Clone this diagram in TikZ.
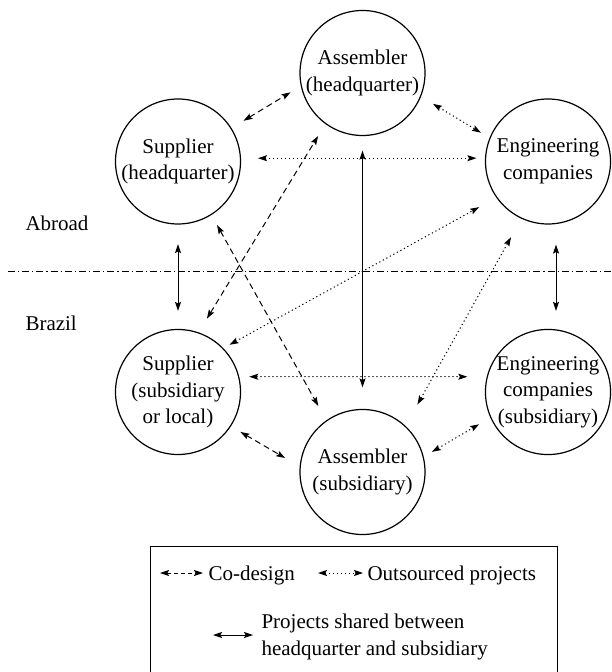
\documentclass[tikz,border=0pt]{standalone}
\usepackage{fontspec}
\setmainfont{Liberation Serif}
\usetikzlibrary{arrows.meta, positioning}

\begin{document}
\begin{tikzpicture}[
    x=0.5pt, y=-0.5pt,
    font=\fontsize{10.5}{13.3}\selectfont,
    line width=0.5pt,
    firm/.style={circle, draw=black, line width=0.6pt, minimum size=62.5pt, inner sep=0pt, align=center},
    tip/.style={{Stealth[length=4.5pt, width=3pt, inset=0.8pt]}-{Stealth[length=4.5pt, width=3pt, inset=0.8pt]}},
    codesign/.style={tip, dash pattern=on 3pt off 2pt},
    outsourced/.style={tip, dash pattern=on 0.6pt off 1.4pt},
    shared/.style={tip},
    divider/.style={dash pattern=on 3.5pt off 1.5pt on 0.6pt off 1.5pt},
    legtext/.style={inner sep=0pt, align=left}
]
    \useasboundingbox (0,0) rectangle (611,672);

    % Firms
    \node[firm] (asmhq) at (362.5,73) {Assembler\\(headquarter)};
    \node[firm] (suphq) at (178,161.5) {Supplier\\(headquarter)};
    \node[firm] (enghq) at (548,161.5) {Engineering\\companies};
    \node[firm] (supsub) at (178,392) {Supplier\\(subsidiary\\or local)};
    \node[firm] (engsub) at (548,392) {Engineering\\companies\\(subsidiary)};
    \node[firm] (asmsub) at (362.5,472) {Assembler\\(subsidiary)};

    % Border
    \draw[divider] (8,271.5) -- (611,271.5);
    \node[anchor=west, inner sep=0pt] (abroad) at (25,223) {Abroad};
    \node[anchor=west, inner sep=0pt] (brazil) at (25,323) {Brazil};

    % Co-design
    \draw[codesign, shorten <=7pt, shorten >=6pt] (suphq.32) -- (asmhq.192);
    \draw[codesign, shorten <=8pt, shorten >=7pt] (supsub.71) -- (asmhq.234);
    \draw[codesign, shorten <=5.75pt, shorten >=8.2pt] (suphq.302) -- (asmsub.125);
    \draw[codesign, shorten <=5.5pt, shorten >=8.4pt] (supsub.327) -- (asmsub.175);

    % Outsourced projects
    \draw[outsourced, shorten <=7pt, shorten >=5pt] (asmhq.338) -- (enghq.158);
    \draw[outsourced, shorten <=8.5pt, shorten >=4.3pt] (suphq.3) -- (enghq.177);
    \draw[outsourced, shorten <=3.5pt, shorten >=9.8pt] (supsub.44) -- (enghq.215);
    \draw[outsourced, shorten <=12.2pt, shorten >=10.6pt] (asmsub.47) -- (enghq.245);
    \draw[outsourced, shorten <=5pt, shorten >=9.7pt] (supsub.14) -- (engsub.166);
    \draw[outsourced, shorten <=4.75pt, shorten >=6.5pt] (asmsub.14) -- (engsub.204);

    % Shared projects
    \draw[shared, shorten <=9.75pt, shorten >=9pt] (suphq.south) -- (supsub.north);
    \draw[shared, shorten <=10pt, shorten >=9pt] ([xshift=4pt]enghq.south) -- ([xshift=4pt]engsub.north);
    \draw[shared, shorten <=7.25pt, shorten >=10.75pt] (asmhq.south) -- (asmsub.north);

    % Legend
    \draw (150,546) rectangle (557,690);
    \node[legtext, anchor=base west] (lgcd) at (208,580) {Co-design};
    \node[legtext, anchor=base west] (lgos) at (367,580) {Outsourced projects};
    \node[legtext, anchor=west] (lgsh) at (261,637) {Projects shared between\\headquarter and subsidiary};
    \coordinate (lgcdl) at (160,573);
    \coordinate (lgosl) at (318,573);
    \coordinate (lgshl) at (213,635);
    \draw[codesign, dash pattern=on 2pt off 1.5pt, shorten >=2.5pt] (lgcdl) -- (lgcdl -| lgcd.west);
    \draw[outsourced, shorten >=2pt] (lgosl) -- (lgosl -| lgos.west);
    \draw[shared, shorten >=4pt] (lgshl) -- (lgshl -| lgsh.west);
\end{tikzpicture}
\end{document}
